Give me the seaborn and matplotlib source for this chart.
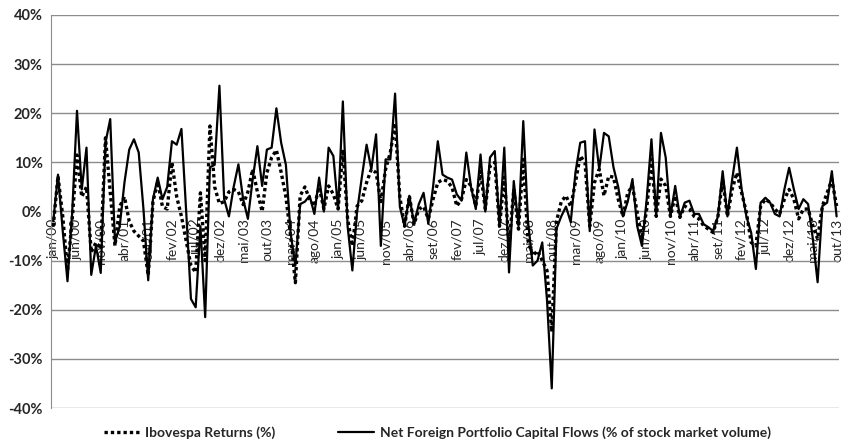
import numpy as np
import pandas as pd
import matplotlib
matplotlib.use("Agg")
import matplotlib.pyplot as plt
import seaborn as sns
from matplotlib.ticker import FuncFormatter

# ==========================================================
# Data (monthly, jan/00 - out/13, values in %)
# ==========================================================

ibovespa = [
    -3, 7.2, -1, -12, -1.5, 11.5, 3, 5, -8.3, -6.3,
    -7.6, 15, 4, -7, 1, 3, -2, -4, -5, -6,
    -13, 2, 6, 1, 0.5, 10, 3, -1, -6, -11,
    -12.4, 3.8, -10, 17.4, 5, 1.6, 2, 4, 4.5, 4,
    1.4, 4, 8.6, 4, 0, 7.9, 11, 12.5, 8, 3,
    -5, -14.5, 3.2, 5, 2.5, 1.1, 5, 0.5, 5.2, 3.5,
    0.5, 12.6, -1.5, -7, 1.1, 2.2, 5.9, 8.6, 7.9, 2,
    8.6, 12, 18, 3, -3, 3.2, -2.6, 0.5, 1, -1.5,
    2.5, 5.9, 6.5, 6.2, 4.9, 1.1, 2.5, 6.5, 5.2, 1.1,
    8.2, 0.5, 9.3, 10, -3, 7, -7, 4.5, -3.6, 10.6,
    -6, -9, -8, -10, -12, -24.5, -2, 2, 3.2, 1,
    6, 11.3, 10, -3, 5.9, 8.6, 3.2, 7.2, 7, 2.5,
    -1, 3.8, 5.2, -0.2, -5.6, 0.5, 10.6, -1, 6.6, 5.2,
    -1, 3.2, -1.2, 1.1, 0.5, -1, -1.5, -2.9, -3.6, -4.3,
    -1, 6.5, -1, 4.5, 7.9, 3.8, -0.2, -6.3, -7, 1.1,
    2.5, 1.8, 0.5, -0.5, 2.5, 4.5, 2.5, -1.5, 0.5, 0.5,
    -2.9, -5.6, 1.1, 3.8, 6.5, 1.1,
]

flows = [
    -2, 7.5, -4, -14.2, 0, 20.5, 4.5, 13, -12.9, -7,
    -12.5, 14, 18.8, -6.3, -3, 5.9, 12.6, 14.7, 12, 0.5,
    -14, 2.5, 6.9, 2.5, 5, 14.3, 13.6, 16.8, 0, -17.8,
    -19.5, -3, -21.5, 9, 9.5, 25.6, 2.5, -1, 5, 9.6,
    2.5, -1.5, 6.5, 13.3, 5.2, 12.6, 13, 21, 14, 9.5,
    -4.5, -11, 1.5, 2, 3.2, -0.5, 6.9, 0, 13, 11.3,
    0.5, 22.4, -3, -12, 0, 7, 13.6, 8.6, 15.7, -7,
    10.6, 10.6, 24, 1, -3, 3.2, -2.5, 1.5, 3.8, -2.5,
    5, 14.3, 7.5, 6.9, 6.5, 3.5, 2.2, 12, 5, 0.5,
    11.6, 0, 11, 12.3, -3, 13, -12.4, 6.2, -3, 18.4,
    -2, -11, -10, -6.3, -18, -36, -3.5, -1, 1, -2.2,
    8, 14, 14.3, -4, 16.7, 8.6, 16, 15.3, 9, 5,
    -1, 2, 6.6, -3, -7, 2.5, 14.7, -1, 16, 11,
    -1, 5.2, -1.2, 1.8, 2.2, -0.5, -0.5, -2.6, -3.2, -4,
    -1, 8.2, -1, 6.5, 13, 4.5, -1, -4.3, -11.7, 1.8,
    2.8, 1.8, -0.5, -1, 4.5, 8.9, 4.5, 0.5, 2.5, 1.5,
    -5.6, -14.4, 1.1, 1.8, 8.2, -1,
]

tick_labels = [
    "jan/00", "jun/00", "nov/00", "abr/01", "set/01", "fev/02", "jul/02",
    "dez/02", "mai/03", "out/03", "mar/04", "ago/04", "jan/05", "jun/05",
    "nov/05", "abr/06", "set/06", "fev/07", "jul/07", "dez/07", "mai/08",
    "out/08", "mar/09", "ago/09", "jan/10", "jun/10", "nov/10", "abr/11",
    "set/11", "fev/12", "jul/12", "dez/12", "mai/13", "out/13",
]

df = pd.DataFrame({
    "month": np.arange(len(flows)),
    "ibov": ibovespa,
    "flows": flows,
})

# ==========================================================
# Plot
# ==========================================================

sns.set_style("white")
plt.rcParams["font.family"] = ["Lato", "DejaVu Sans"]

fig, ax = plt.subplots(figsize=(8.41, 4.46), dpi=100)
fig.subplots_adjust(left=0.0605, right=0.9976, top=0.9664, bottom=0.0852)

sns.lineplot(data=df, x="month", y="ibov", ax=ax, color="black",
             linewidth=2.4, linestyle=(0, (1, 0.9)),
             label="Ibovespa Returns (%)", zorder=3)
sns.lineplot(data=df, x="month", y="flows", ax=ax, color="black",
             linewidth=1.6,
             label="Net Foreign Portfolio Capital Flows (% of stock market volume)",
             zorder=4)

grid_col = "#8c8c8c"

# spine position first (it resets the ticks)
for s in ["top", "right"]:
    ax.spines[s].set_visible(False)
ax.spines["left"].set_color(grid_col)
ax.spines["bottom"].set_position(("data", 0))
ax.spines["bottom"].set_color(grid_col)

ax.set_ylim(-40, 40)
ax.set_yticks(range(-40, 41, 10))
ax.yaxis.set_major_formatter(FuncFormatter(lambda v, p: f"{v:.0f}%"))
ax.set_xlim(-0.5, len(flows) - 0.5)
ax.set_xticks(range(0, len(flows), 5))
ax.set_xticklabels(tick_labels, rotation=90, fontsize=10)

ax.grid(axis="y", color=grid_col, linewidth=1)
ax.set_axisbelow(True)

ax.tick_params(axis="y", length=4, color=grid_col, labelsize=10.5, pad=2)
ax.tick_params(axis="x", length=4, color=grid_col, direction="out", pad=1)
for t in ax.get_yticklabels():
    t.set_fontweight("bold")

ax.set_xlabel("")
ax.set_ylabel("")

handles, labels = ax.get_legend_handles_labels()
ax.legend_.remove()
fig.legend(handles, labels, loc="lower center", ncol=2, frameon=False,
           bbox_to_anchor=(0.52, -0.012), handlelength=2.6, handletextpad=0.4,
           columnspacing=4.5, prop={"weight": "bold", "size": 10})

plt.savefig("out.png", dpi=100)
